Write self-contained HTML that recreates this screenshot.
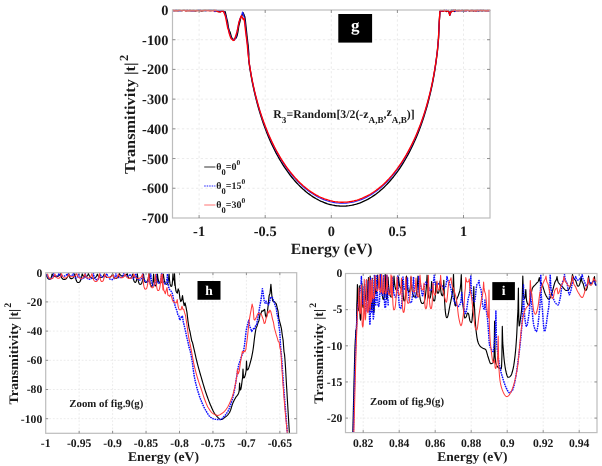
<!DOCTYPE html>
<html><head><meta charset="utf-8"><style>
html,body{margin:0;padding:0;background:#fff;width:602px;height:466px;overflow:hidden}
svg{display:block;filter:blur(0.3px)}
text{text-rendering:geometricPrecision;filter:grayscale(1)}
text{font-family:"Liberation Serif",serif}
.b{font-weight:bold;fill:#1a1a1a}
.grid{stroke:#e6e6e6;stroke-width:0.8;stroke-dasharray:2.3 2.4}
.grid2{stroke:#e6e6e6;stroke-width:0.8;stroke-dasharray:1.8 1.8}
.ax{fill:none;stroke:#bdbdbd;stroke-width:1.2}
.tk{stroke:#858585;stroke-width:0.9}
</style></head><body>
<svg width="602" height="466" viewBox="0 0 602 466">
<defs>
<clipPath id="ch"><rect x="45.7" y="271.7" width="251" height="161.6"/></clipPath>
<clipPath id="ci"><rect x="345.5" y="272.5" width="251.5" height="160.1"/></clipPath>
</defs>
<rect width="602" height="466" fill="#fff"/>
<g>
<line x1="199.1" y1="10" x2="199.1" y2="218" class="grid"/>
<line x1="265.2" y1="10" x2="265.2" y2="218" class="grid"/>
<line x1="331.3" y1="10" x2="331.3" y2="218" class="grid"/>
<line x1="397.4" y1="10" x2="397.4" y2="218" class="grid"/>
<line x1="463.5" y1="10" x2="463.5" y2="218" class="grid"/>
<line x1="172.5" y1="39.71" x2="490" y2="39.71" class="grid"/>
<line x1="172.5" y1="69.42" x2="490" y2="69.42" class="grid"/>
<line x1="172.5" y1="99.13" x2="490" y2="99.13" class="grid"/>
<line x1="172.5" y1="128.84" x2="490" y2="128.84" class="grid"/>
<line x1="172.5" y1="158.55" x2="490" y2="158.55" class="grid"/>
<line x1="172.5" y1="188.26" x2="490" y2="188.26" class="grid"/>
<path d="M172.66 10.36 L173.98 10.67 L175.3 10.64 L176.63 10.41 L177.95 10.52 L179.27 10.5 L180.59 10.59 L181.91 10.65 L183.24 10.34 L184.56 10.31 L185.88 10.67 L187.2 10.49 L188.52 10.64 L189.85 10.3 L191.17 10.5 L192.49 10.62 L193.81 10.4 L195.13 10.72 L196.46 10.7 L197.78 10.31 L199.1 10.31 L200.42 10.54 L201.74 10.72 L203.07 10.47 L204.39 10.39 L205.71 10.49 L207.03 10.31 L208.35 10.4 L209.68 10.49 L211 10.52 L212.32 10.4 L213.64 10.4 L214.96 10.72 L216.29 10.67 L217.61 11.47 L218.93 11.29 L220.25 11.65 L221.57 10.64 L224.13 11.93 L225.13 11.64 L226.03 15.47 L226.73 18.6 L227.53 21.64 L228.43 27.81 L229.33 30.92 L230.13 32.39 L231.53 37.49 L232.73 39.22 L234.03 39.69 L235.13 38.16 L236.13 38.08 L237.03 35.86 L237.83 32.04 L238.73 26.08 L239.53 23.1 L240.83 17.48 L242.13 15.18 L243.03 12.74 L244.03 14.88 L244.83 17.09 L245.53 22.46 L246.43 30.89 L247.33 39.3 L248.13 45.5 L248.83 54 L248.68 59.74 L249.2 63.65 L249.73 67.28 L250.26 70.67 L250.79 73.86 L251.32 76.88 L251.85 79.76 L252.38 82.51 L252.91 85.14 L253.43 87.66 L253.96 90.1 L254.49 92.44 L255.02 94.71 L255.55 96.91 L257.14 103.11 L258.72 108.83 L260.31 114.13 L261.9 119.08 L263.48 123.72 L265.07 128.1 L266.65 132.23 L268.24 136.15 L269.83 139.87 L271.41 143.41 L273 146.79 L274.59 150 L276.17 153.08 L277.76 156.02 L279.35 158.83 L280.93 161.52 L282.52 164.1 L284.1 166.57 L285.69 168.94 L287.28 171.21 L288.86 173.38 L290.45 175.47 L292.04 177.46 L293.62 179.37 L295.21 181.2 L296.8 182.96 L298.38 184.63 L299.97 186.23 L301.56 187.76 L303.14 189.22 L304.73 190.61 L306.31 191.93 L307.9 193.19 L309.49 194.38 L311.07 195.51 L312.66 196.58 L314.25 197.58 L315.83 198.53 L317.42 199.42 L319.01 200.25 L320.59 201.02 L322.18 201.74 L323.76 202.39 L325.35 203 L326.94 203.55 L328.52 204.04 L330.11 204.48 L331.7 204.87 L333.28 205.2 L334.87 205.48 L336.46 205.71 L338.04 205.88 L339.63 206 L341.22 206.07 L342.8 206.09 L344.39 206.05 L345.97 205.96 L347.56 205.82 L349.15 205.62 L350.73 205.38 L352.32 205.08 L353.91 204.72 L355.49 204.32 L357.08 203.86 L358.67 203.34 L360.25 202.77 L361.84 202.15 L363.42 201.47 L365.01 200.73 L366.6 199.94 L368.18 199.09 L369.77 198.18 L371.36 197.21 L372.94 196.18 L374.53 195.08 L376.12 193.93 L377.7 192.71 L379.29 191.43 L380.88 190.08 L382.46 188.67 L384.05 187.18 L385.63 185.63 L387.22 184 L388.81 182.29 L390.39 180.51 L391.98 178.65 L393.57 176.71 L395.15 174.68 L396.74 172.56 L398.33 170.35 L399.91 168.04 L401.5 165.64 L403.08 163.13 L404.67 160.5 L406.26 157.77 L407.84 154.91 L409.43 151.92 L411.02 148.79 L412.6 145.51 L414.19 142.08 L415.78 138.47 L417.36 134.67 L418.95 130.68 L420.54 126.45 L422.12 121.98 L423.71 117.22 L425.29 112.14 L426.88 106.69 L428.47 100.8 L430.05 94.38 L430.58 92.1 L431.11 89.74 L431.64 87.29 L432.17 84.75 L432.7 82.1 L433.23 79.34 L433.76 76.44 L434.28 73.39 L434.81 70.17 L435.34 66.75 L435.87 63.09 L436.4 59 L437.46 50.75 L438.51 38.65 L439.24 22.25 L439.97 11.55 L441.03 10.99 L441.82 10.99 L442.61 10.59 L443.41 10.56 L444.2 10.29 L444.99 10.68 L445.79 10.87 L446.58 11.46 L447.37 11.4 L448.16 10.46 L448.96 11.77 L449.75 15.17 L450.54 13.09 L451.34 10.11 L452.13 10.8 L452.92 10.16 L453.72 11.04 L454.51 11.5 L455.3 10.06 L456.1 10.41 L456.89 10.65 L457.68 10.48 L458.48 10.37 L459.27 10.54 L460.06 10.61 L460.86 10.6 L461.65 10.46 L462.44 10.49 L463.24 10.52 L464.03 10.64 L464.82 10.53 L465.62 10.47 L466.41 10.52 L467.2 10.31 L467.99 10.32 L468.79 10.61 L469.58 10.74 L470.37 10.56 L471.17 10.47 L471.96 10.37 L472.75 10.52 L473.55 10.73 L474.34 10.64 L475.13 10.54 L475.93 10.68 L476.72 10.4 L477.51 10.53 L478.31 10.72 L479.1 10.55 L479.89 10.5 L480.69 10.42 L481.48 10.54 L482.27 10.72 L483.07 10.3 L483.86 10.65 L484.65 10.66 L485.45 10.69 L486.24 10.63 L487.03 10.66 L487.82 10.53 L488.62 10.55 L489.41 10.49 L489.94 10.89" fill="none" stroke="#000" stroke-width="1.35" stroke-linejoin="round" />
<path d="M172.66 10.72 L173.98 10.72 L175.3 10.32 L176.63 10.33 L177.95 10.67 L179.27 10.63 L180.59 10.6 L181.91 10.43 L183.24 10.57 L184.56 10.57 L185.88 10.56 L187.2 10.37 L188.52 10.49 L189.85 10.47 L191.17 10.62 L192.49 10.74 L193.81 10.72 L195.13 10.54 L196.46 10.5 L197.78 10.42 L199.1 10.31 L200.42 10.31 L201.74 10.5 L203.07 10.44 L204.39 10.47 L205.71 10.69 L207.03 10.53 L208.35 10.55 L209.68 10.4 L211 10.31 L212.32 10.44 L213.64 10.36 L214.96 11.56 L216.29 10.19 L217.61 11.24 L218.93 10.5 L220.25 11.13 L221.57 10.78 L223.6 10.72 L224.6 12.73 L225.5 15.58 L226.2 17.51 L227 22.92 L227.9 27.1 L228.8 30.48 L229.6 33.75 L231 37.5 L232.2 39.25 L233.5 39.6 L234.6 39.94 L235.6 38.33 L236.5 34.78 L237.3 30.36 L238.2 26.07 L239 22.21 L240.3 17.95 L241.6 16.05 L242.5 11.99 L243.5 14.88 L244.3 17.97 L245 22.05 L245.9 31.54 L246.8 39.34 L247.6 45.5 L248.3 54 L248.68 59.03 L249.2 62.88 L249.73 66.45 L250.26 69.79 L250.79 72.94 L251.32 75.92 L251.85 78.76 L252.38 81.46 L252.91 84.05 L253.43 86.54 L253.96 88.94 L254.49 91.26 L255.02 93.49 L255.55 95.66 L257.14 101.77 L258.72 107.4 L260.31 112.63 L261.9 117.51 L263.48 122.09 L265.07 126.4 L266.65 130.47 L268.24 134.34 L269.83 138 L271.41 141.49 L273 144.82 L274.59 147.99 L276.17 151.02 L277.76 153.92 L279.35 156.69 L280.93 159.34 L282.52 161.88 L284.1 164.32 L285.69 166.65 L287.28 168.89 L288.86 171.03 L290.45 173.08 L292.04 175.05 L293.62 176.94 L295.21 178.74 L296.8 180.47 L298.38 182.12 L299.97 183.7 L301.56 185.2 L303.14 186.64 L304.73 188.01 L306.31 189.31 L307.9 190.55 L309.49 191.73 L311.07 192.84 L312.66 193.89 L314.25 194.88 L315.83 195.82 L317.42 196.69 L319.01 197.51 L320.59 198.27 L322.18 198.98 L323.76 199.62 L325.35 200.22 L326.94 200.76 L328.52 201.25 L330.11 201.68 L331.7 202.06 L333.28 202.39 L334.87 202.66 L336.46 202.89 L338.04 203.06 L339.63 203.18 L341.22 203.25 L342.8 203.26 L344.39 203.23 L345.97 203.14 L347.56 203 L349.15 202.81 L350.73 202.57 L352.32 202.27 L353.91 201.92 L355.49 201.52 L357.08 201.07 L358.67 200.56 L360.25 200 L361.84 199.38 L363.42 198.71 L365.01 197.99 L366.6 197.2 L368.18 196.36 L369.77 195.47 L371.36 194.51 L372.94 193.5 L374.53 192.42 L376.12 191.28 L377.7 190.08 L379.29 188.82 L380.88 187.49 L382.46 186.1 L384.05 184.63 L385.63 183.1 L387.22 181.49 L388.81 179.81 L390.39 178.06 L391.98 176.22 L393.57 174.31 L395.15 172.31 L396.74 170.22 L398.33 168.04 L399.91 165.77 L401.5 163.4 L403.08 160.92 L404.67 158.34 L406.26 155.64 L407.84 152.82 L409.43 149.87 L411.02 146.79 L412.6 143.56 L414.19 140.18 L415.78 136.62 L417.36 132.88 L418.95 128.94 L420.54 124.78 L422.12 120.37 L423.71 115.68 L425.29 110.67 L426.88 105.3 L428.47 99.49 L430.05 93.16 L430.58 90.91 L431.11 88.59 L431.64 86.18 L432.17 83.67 L432.7 81.06 L433.23 78.34 L433.76 75.48 L434.28 72.48 L434.81 69.31 L435.34 65.93 L435.87 62.32 L436.4 58.23 L437.46 49.84 L438.51 37.85 L439.24 22.53 L439.97 11 L441.03 10.95 L441.82 11.4 L442.61 11.34 L443.41 10.47 L444.2 10.61 L444.99 10.51 L445.79 10.28 L446.58 10.04 L447.37 11.21 L448.16 10.67 L448.96 11.53 L449.75 15.31 L450.54 13.33 L451.34 11.6 L452.13 10.28 L452.92 10.29 L453.72 10.05 L454.51 10.77 L455.3 11.36 L456.1 10.5 L456.89 10.55 L457.68 10.71 L458.48 10.62 L459.27 10.51 L460.06 10.4 L460.86 10.44 L461.65 10.61 L462.44 10.37 L463.24 10.7 L464.03 10.42 L464.82 10.7 L465.62 10.44 L466.41 10.72 L467.2 10.61 L467.99 10.52 L468.79 10.53 L469.58 10.59 L470.37 10.56 L471.17 10.44 L471.96 10.39 L472.75 10.53 L473.55 10.71 L474.34 10.57 L475.13 10.33 L475.93 10.66 L476.72 10.62 L477.51 10.7 L478.31 10.38 L479.1 10.63 L479.89 10.32 L480.69 10.59 L481.48 10.42 L482.27 10.4 L483.07 10.69 L483.86 10.34 L484.65 10.53 L485.45 10.68 L486.24 10.41 L487.03 10.39 L487.82 10.69 L488.62 10.49 L489.41 10.62 L489.94 10.89" fill="none" stroke="#2020ff" stroke-width="1.1" stroke-linejoin="round" />
<path d="M172.66 10.4 L173.98 10.54 L175.3 10.46 L176.63 10.57 L177.95 10.58 L179.27 10.33 L180.59 10.3 L181.91 10.67 L183.24 10.41 L184.56 10.4 L185.88 10.74 L187.2 10.51 L188.52 10.67 L189.85 10.51 L191.17 10.58 L192.49 10.36 L193.81 10.58 L195.13 10.68 L196.46 10.53 L197.78 10.63 L199.1 10.6 L200.42 10.33 L201.74 10.64 L203.07 10.56 L204.39 10.43 L205.71 10.31 L207.03 10.68 L208.35 10.51 L209.68 10.62 L211 10.69 L212.32 10.62 L213.64 10.71 L214.96 10.25 L216.29 10.64 L217.61 11.45 L218.93 11.92 L220.25 12.1 L221.57 11.18 L223.34 10.88 L224.34 13.4 L225.24 15.66 L225.94 18.98 L226.74 22.87 L227.64 27.7 L228.54 30.31 L229.34 33.76 L230.74 37.95 L231.94 39.17 L233.24 40.47 L234.34 40.14 L235.34 36.96 L236.24 34.08 L237.04 31.69 L237.94 27.56 L238.74 22.91 L240.04 18.88 L241.34 15.65 L242.24 17.25 L243.24 19.52 L244.04 18.4 L244.74 23.56 L245.64 31.67 L246.54 38.54 L247.34 45.5 L248.04 54 L248.68 58.76 L249.2 62.6 L249.73 66.15 L250.26 69.47 L250.79 72.6 L251.32 75.57 L251.85 78.39 L252.38 81.08 L252.91 83.66 L253.43 86.13 L253.96 88.52 L254.49 90.82 L255.02 93.04 L255.55 95.2 L257.14 101.28 L258.72 106.88 L260.31 112.08 L261.9 116.93 L263.48 121.48 L265.07 125.77 L266.65 129.83 L268.24 133.67 L269.83 137.31 L271.41 140.78 L273 144.09 L274.59 147.25 L276.17 150.26 L277.76 153.14 L279.35 155.9 L280.93 158.54 L282.52 161.07 L284.1 163.49 L285.69 165.81 L287.28 168.03 L288.86 170.16 L290.45 172.21 L292.04 174.16 L293.62 176.04 L295.21 177.83 L296.8 179.55 L298.38 181.19 L299.97 182.76 L301.56 184.26 L303.14 185.69 L304.73 187.05 L306.31 188.35 L307.9 189.58 L309.49 190.75 L311.07 191.86 L312.66 192.9 L314.25 193.89 L315.83 194.82 L317.42 195.69 L319.01 196.5 L320.59 197.26 L322.18 197.96 L323.76 198.6 L325.35 199.2 L326.94 199.73 L328.52 200.22 L330.11 200.65 L331.7 201.03 L333.28 201.35 L334.87 201.63 L336.46 201.85 L338.04 202.02 L339.63 202.14 L341.22 202.21 L342.8 202.22 L344.39 202.19 L345.97 202.1 L347.56 201.96 L349.15 201.77 L350.73 201.53 L352.32 201.24 L353.91 200.89 L355.49 200.49 L357.08 200.04 L358.67 199.53 L360.25 198.98 L361.84 198.36 L363.42 197.7 L365.01 196.97 L366.6 196.2 L368.18 195.36 L369.77 194.47 L371.36 193.52 L372.94 192.51 L374.53 191.44 L376.12 190.31 L377.7 189.12 L379.29 187.86 L380.88 186.54 L382.46 185.15 L384.05 183.69 L385.63 182.17 L387.22 180.57 L388.81 178.9 L390.39 177.15 L391.98 175.33 L393.57 173.42 L395.15 171.43 L396.74 169.36 L398.33 167.19 L399.91 164.93 L401.5 162.57 L403.08 160.11 L404.67 157.54 L406.26 154.86 L407.84 152.05 L409.43 149.12 L411.02 146.05 L412.6 142.84 L414.19 139.47 L415.78 135.94 L417.36 132.22 L418.95 128.3 L420.54 124.16 L422.12 119.77 L423.71 115.11 L425.29 110.13 L426.88 104.79 L428.47 99.01 L430.05 92.71 L430.58 90.48 L431.11 88.17 L431.64 85.77 L432.17 83.28 L432.7 80.68 L433.23 77.97 L433.76 75.13 L434.28 72.14 L434.81 68.99 L435.34 65.63 L435.87 62.04 L436.4 58.65 L437.46 49.84 L438.51 37.8 L439.24 21.8 L439.97 10.89 L441.03 10.38 L441.82 11.18 L442.61 11.19 L443.41 11.42 L444.2 10.23 L444.99 10.67 L445.79 11.28 L446.58 10.57 L447.37 11.35 L448.16 10.87 L448.96 11.91 L449.75 15.26 L450.54 12.88 L451.34 11.33 L452.13 11 L452.92 11.33 L453.72 10.23 L454.51 10.1 L455.3 10.27 L456.1 10.73 L456.89 10.7 L457.68 10.55 L458.48 10.62 L459.27 10.39 L460.06 10.67 L460.86 10.55 L461.65 10.42 L462.44 10.33 L463.24 10.68 L464.03 10.74 L464.82 10.34 L465.62 10.65 L466.41 10.48 L467.2 10.36 L467.99 10.43 L468.79 10.64 L469.58 10.69 L470.37 10.32 L471.17 10.57 L471.96 10.32 L472.75 10.62 L473.55 10.44 L474.34 10.69 L475.13 10.73 L475.93 10.52 L476.72 10.74 L477.51 10.44 L478.31 10.33 L479.1 10.56 L479.89 10.31 L480.69 10.39 L481.48 10.48 L482.27 10.57 L483.07 10.37 L483.86 10.32 L484.65 10.68 L485.45 10.44 L486.24 10.72 L487.03 10.7 L487.82 10.47 L488.62 10.5 L489.41 10.53 L489.94 10.89" fill="none" stroke="#ff0000" stroke-width="1.35" stroke-linejoin="round" />
<rect x="172.5" y="10" width="317.5" height="208" class="ax"/>
<line x1="199.1" y1="218" x2="199.1" y2="215" class="tk"/>
<line x1="199.1" y1="10" x2="199.1" y2="13" class="tk"/>
<line x1="265.2" y1="218" x2="265.2" y2="215" class="tk"/>
<line x1="265.2" y1="10" x2="265.2" y2="13" class="tk"/>
<line x1="331.3" y1="218" x2="331.3" y2="215" class="tk"/>
<line x1="331.3" y1="10" x2="331.3" y2="13" class="tk"/>
<line x1="397.4" y1="218" x2="397.4" y2="215" class="tk"/>
<line x1="397.4" y1="10" x2="397.4" y2="13" class="tk"/>
<line x1="463.5" y1="218" x2="463.5" y2="215" class="tk"/>
<line x1="463.5" y1="10" x2="463.5" y2="13" class="tk"/>
<line x1="172.5" y1="39.71" x2="175.5" y2="39.71" class="tk"/>
<line x1="490" y1="39.71" x2="487" y2="39.71" class="tk"/>
<line x1="172.5" y1="69.42" x2="175.5" y2="69.42" class="tk"/>
<line x1="490" y1="69.42" x2="487" y2="69.42" class="tk"/>
<line x1="172.5" y1="99.13" x2="175.5" y2="99.13" class="tk"/>
<line x1="490" y1="99.13" x2="487" y2="99.13" class="tk"/>
<line x1="172.5" y1="128.84" x2="175.5" y2="128.84" class="tk"/>
<line x1="490" y1="128.84" x2="487" y2="128.84" class="tk"/>
<line x1="172.5" y1="158.55" x2="175.5" y2="158.55" class="tk"/>
<line x1="490" y1="158.55" x2="487" y2="158.55" class="tk"/>
<line x1="172.5" y1="188.26" x2="175.5" y2="188.26" class="tk"/>
<line x1="490" y1="188.26" x2="487" y2="188.26" class="tk"/>
<text x="168.5" y="15" font-size="14.4" text-anchor="end" class="b">0</text>
<text x="168.5" y="44.71" font-size="14.4" text-anchor="end" class="b">-100</text>
<text x="168.5" y="74.42" font-size="14.4" text-anchor="end" class="b">-200</text>
<text x="168.5" y="104.13" font-size="14.4" text-anchor="end" class="b">-300</text>
<text x="168.5" y="133.84" font-size="14.4" text-anchor="end" class="b">-400</text>
<text x="168.5" y="163.55" font-size="14.4" text-anchor="end" class="b">-500</text>
<text x="168.5" y="193.26" font-size="14.4" text-anchor="end" class="b">-600</text>
<text x="168.5" y="222.97" font-size="14.4" text-anchor="end" class="b">-700</text>
<text x="199.1" y="236.2" font-size="14.4" text-anchor="middle" class="b">-1</text>
<text x="265.2" y="236.2" font-size="14.4" text-anchor="middle" class="b">-0.5</text>
<text x="331.3" y="236.2" font-size="14.4" text-anchor="middle" class="b">0</text>
<text x="397.4" y="236.2" font-size="14.4" text-anchor="middle" class="b">0.5</text>
<text x="463.5" y="236.2" font-size="14.4" text-anchor="middle" class="b">1</text>
<text x="290.74" y="254.4" font-size="15.6" text-anchor="start" textLength="81.9" lengthAdjust="spacingAndGlyphs" class="b" >Energy (eV)</text>
<text transform="translate(135.3,173.94) rotate(-90)" font-size="15.2" class="b" textLength="111.5" lengthAdjust="spacingAndGlyphs">Transmitivity |t|</text><text transform="translate(127.9,61.1) rotate(-90)" font-size="12.4" class="b">2</text>
<line x1="204.2" y1="167" x2="215.4" y2="167" stroke="#444" stroke-width="1.1" />
<text x="216.3" y="170" font-size="10" class="b">&#952;<tspan font-size="8.5" dy="4.6">0</tspan><tspan dy="-4.6">=0</tspan><tspan font-size="7.5" dy="-5.2">0</tspan></text>
<line x1="204.2" y1="186" x2="215.4" y2="186" stroke="#2020ff" stroke-width="1.1" stroke-dasharray="1.5 1"/>
<text x="216.3" y="189" font-size="10" class="b">&#952;<tspan font-size="8.5" dy="4.6">0</tspan><tspan dy="-4.6">=15</tspan><tspan font-size="7.5" dy="-5.2">0</tspan></text>
<line x1="204.2" y1="205" x2="215.4" y2="205" stroke="#ff8080" stroke-width="1.1" />
<text x="216.3" y="208" font-size="10" class="b">&#952;<tspan font-size="8.5" dy="4.6">0</tspan><tspan dy="-4.6">=30</tspan><tspan font-size="7.5" dy="-5.2">0</tspan></text>
<rect x="338.3" y="14" width="33.8" height="28.6" fill="#000"/>
<text x="355.3" y="30.5" font-size="17" text-anchor="middle" class="b" style="fill:#fff">g</text>
<text x="273.3" y="117.9" font-size="11.8" class="b">R<tspan font-size="9.2" dy="5.3">3</tspan><tspan dy="-5.3">=Random[3/2(-z</tspan><tspan font-size="9.2" dy="5.3">A,B</tspan><tspan dy="-5.3">,</tspan><tspan dy="-2">z</tspan><tspan font-size="9.2" dy="7.3">A,B</tspan><tspan dy="-5.3">)]</tspan></text>
<line x1="79.15" y1="272.7" x2="79.15" y2="433.3" class="grid2"/>
<line x1="112.6" y1="272.7" x2="112.6" y2="433.3" class="grid2"/>
<line x1="146.05" y1="272.7" x2="146.05" y2="433.3" class="grid2"/>
<line x1="179.5" y1="272.7" x2="179.5" y2="433.3" class="grid2"/>
<line x1="212.95" y1="272.7" x2="212.95" y2="433.3" class="grid2"/>
<line x1="246.4" y1="272.7" x2="246.4" y2="433.3" class="grid2"/>
<line x1="279.85" y1="272.7" x2="279.85" y2="433.3" class="grid2"/>
<line x1="45.7" y1="301.9" x2="296.7" y2="301.9" class="grid2"/>
<line x1="45.7" y1="331.1" x2="296.7" y2="331.1" class="grid2"/>
<line x1="45.7" y1="360.3" x2="296.7" y2="360.3" class="grid2"/>
<line x1="45.7" y1="389.5" x2="296.7" y2="389.5" class="grid2"/>
<line x1="45.7" y1="418.7" x2="296.7" y2="418.7" class="grid2"/>
<g clip-path="url(#ch)" class="cv">
<path d="M46 273.86 L46.45 275.53 L46.91 276.81 L47.36 277.75 L47.82 278.42 L48.27 278.84 L48.72 279.08 L49.18 279.19 L49.63 279.22 L50.13 279.14 L50.63 278.77 L51.13 277.89 L51.63 276.29 L52.13 273.77 L52.58 274.66 L53.04 275.34 L53.49 275.84 L53.95 276.19 L54.41 276.42 L54.86 276.55 L55.32 276.61 L55.77 276.62 L56.23 276.61 L56.69 276.58 L57.15 276.5 L57.61 276.37 L58.07 276.17 L58.53 275.89 L58.99 275.51 L59.44 275.01 L59.9 274.39 L60.36 273.63 L60.82 275.42 L61.29 276.8 L61.75 277.82 L62.21 278.53 L62.68 278.99 L63.14 279.25 L63.6 279.37 L64.06 279.39 L64.53 279.38 L65 279.31 L65.46 279.16 L65.93 278.9 L66.4 278.5 L66.86 277.94 L67.33 277.18 L67.8 276.2 L68.26 274.97 L68.73 273.46 L69.15 275.52 L69.58 276.96 L70.01 277.87 L70.43 278.38 L70.86 278.6 L71.28 278.65 L71.73 278.63 L72.18 278.52 L72.62 278.3 L73.07 277.91 L73.51 277.29 L73.96 276.42 L74.4 275.23 L74.85 273.69 L75.34 276.77 L75.83 279.03 L76.32 280.61 L76.81 281.62 L77.3 282.19 L77.79 282.44 L78.28 282.5 L78.77 282.46 L79.26 282.28 L79.76 281.88 L80.25 281.18 L80.74 280.1 L81.23 278.55 L81.73 276.45 L82.22 273.72 L82.65 274.84 L83.08 275.67 L83.51 276.24 L83.94 276.61 L84.37 276.81 L84.8 276.91 L85.23 276.93 L85.68 276.9 L86.14 276.81 L86.59 276.58 L87.04 276.19 L87.5 275.57 L87.95 274.69 L88.41 273.49 L88.89 274.7 L89.37 275.69 L89.85 276.48 L90.33 277.09 L90.81 277.54 L91.29 277.86 L91.77 278.07 L92.25 278.19 L92.73 278.25 L93.21 278.26 L93.67 278.24 L94.13 278.18 L94.59 278.04 L95.05 277.8 L95.52 277.43 L95.98 276.91 L96.44 276.19 L96.9 275.27 L97.36 274.11 L97.84 275.24 L98.32 276.08 L98.8 276.67 L99.27 277.04 L99.75 277.25 L100.23 277.34 L100.71 277.36 L101.17 277.35 L101.63 277.27 L102.09 277.11 L102.55 276.82 L103.01 276.37 L103.47 275.73 L103.93 274.86 L104.39 273.72 L104.86 275.05 L105.34 276.02 L105.81 276.7 L106.28 277.14 L106.76 277.38 L107.23 277.49 L107.7 277.52 L108.2 277.51 L108.69 277.46 L109.19 277.37 L109.68 277.21 L110.18 276.96 L110.67 276.61 L111.17 276.14 L111.66 275.53 L112.15 274.77 L112.65 273.83 L113.11 275.65 L113.57 276.91 L114.02 277.72 L114.48 278.17 L114.94 278.36 L115.4 278.41 L115.85 278.39 L116.3 278.31 L116.75 278.15 L117.2 277.86 L117.65 277.41 L118.1 276.78 L118.55 275.92 L119 274.81 L119.45 273.41 L119.93 274.29 L120.41 274.94 L120.89 275.39 L121.37 275.68 L121.85 275.84 L122.33 275.91 L122.81 275.93 L123.3 275.92 L123.79 275.88 L124.29 275.8 L124.78 275.67 L125.27 275.45 L125.77 275.15 L126.26 274.74 L126.75 274.21 L127.24 273.54 L127.72 275.76 L128.2 277.16 L128.67 277.94 L129.15 278.27 L129.63 278.33 L130.08 278.31 L130.53 278.18 L130.98 277.9 L131.43 277.4 L131.89 276.62 L132.34 275.5 L132.79 273.98 L133.28 277.86 L133.76 280.32 L134.25 281.68 L134.74 282.25 L135.22 282.38 L135.65 282.25 L136.09 281.66 L136.52 280.28 L136.95 277.76 L137.38 273.8 L137.85 278 L138.32 280.91 L138.79 282.77 L139.27 283.8 L139.74 284.25 L140.21 284.35 L140.68 284.28 L141.15 283.99 L141.62 283.31 L142.09 282.12 L142.56 280.26 L143.03 277.58 L143.51 273.95 L143.95 277.87 L144.4 280.35 L144.84 281.72 L145.29 282.3 L145.73 282.42 L146.21 282.36 L146.68 282.11 L147.16 281.52 L147.63 280.49 L148.11 278.88 L148.58 276.57 L149.06 273.43 L149.5 278.58 L149.95 282.16 L150.39 284.44 L150.84 285.71 L151.28 286.26 L151.73 286.38 L152.2 286.07 L152.66 284.53 L153.13 280.84 L153.59 274.07 L154.01 279.53 L154.43 282.98 L154.85 284.89 L155.26 285.7 L155.68 285.87 L156.12 285.58 L156.56 284.1 L157.01 280.55 L157.45 274.05 L157.87 277.57 L158.29 280.01 L158.71 281.57 L159.13 282.44 L159.55 282.81 L159.97 282.89 L160.45 282.84 L160.93 282.58 L161.41 282.01 L161.89 280.99 L162.37 279.41 L162.85 277.13 L163.33 274.03 L163.8 277.6 L164.27 280.22 L164.74 282.04 L165.22 283.22 L165.69 283.88 L166.16 284.17 L166.63 284.23 L167.11 284.09 L167.6 283.39 L168.08 281.75 L168.56 278.79 L169.04 274.11 L169.5 279.8 L169.97 283.41 L170.43 285.4 L170.89 286.25 L171.36 286.42 L171.76 286.1 L172.16 284.51 L172.56 280.68 L172.96 273.67 L173.43 278.74 L173.9 279.93 L174.37 280.93 L174.85 285.45 L174.5 273.5 L174.98 282.19 L175.46 287.7 L175.94 290.74 L176.42 292.15 L177.32 293.22 L178.18 288.92 L179.03 291 L179.9 298.08 L180.77 301.54 L181.63 300.3 L182.5 295.55 L183.34 301.51 L184.18 305.68 L185.05 302.87 L186 307.12 L187 312.51 L188 321.32 L189 327.84 L190 331.8 L191 337.21 L191.88 341.47 L192.32 341.95 L192.76 343.7 L193.2 345.5 L193.67 347.53 L194.15 349.62 L194.62 351.74 L195.1 353.87 L195.57 355.98 L196.05 358.06 L196.53 360.07 L197 362 L197.47 363.82 L197.93 365.59 L198.4 367.33 L198.87 369.03 L199.33 370.7 L199.8 372.34 L200.27 373.97 L200.73 375.59 L201.2 377.2 L201.68 378.86 L202.16 380.51 L202.64 382.16 L203.12 383.79 L203.6 385.41 L204.08 387 L204.56 388.56 L205.04 390.08 L205.52 391.56 L206 393 L206.47 394.37 L206.94 395.73 L207.41 397.06 L207.88 398.37 L208.35 399.65 L208.82 400.9 L209.29 402.11 L209.76 403.28 L210.23 404.41 L210.7 405.5 L211.18 406.59 L211.66 407.68 L212.13 408.75 L212.61 409.79 L213.09 410.79 L213.57 411.73 L214.04 412.58 L214.52 413.35 L215 414 L215.48 414.61 L215.97 415.21 L216.45 415.81 L216.94 416.4 L217.42 416.95 L217.91 417.48 L218.39 417.96 L218.88 418.4 L219.36 418.77 L219.85 419.08 L220.33 419.31 L220.82 419.45 L221.3 419.5 L221.76 419.44 L222.23 419.29 L222.69 419.05 L223.15 418.75 L223.61 418.41 L224.07 418.04 L224.54 417.66 L225 417.3 L225.5 416.91 L226 416.51 L226.5 416.07 L227 415.61 L227.5 415.1 L228 414.54 L228.5 413.92 L229 413.25 L229.5 412.5 L229.95 411.64 L230.4 410.52 L230.85 409.22 L231.3 407.8 L231.75 406.35 L232.2 404.93 L232.65 403.62 L233.1 402.5 L233.58 401.46 L234.07 400.49 L234.55 399.57 L235.03 398.69 L235.52 397.84 L236 397 L236.47 396.32 L236.93 395.8 L237.4 395.29 L237.87 394.67 L238.33 393.79 L238.8 392.5 L239.2 390.75 L239.6 383 L240 388.95 L240.4 390 L240.85 389.14 L241.3 386.88 L241.75 383.68 L242.2 380 L242.6 377.51 L243 369 L243.4 376.65 L243.8 378 L244.3 377.64 L244.8 376.58 L245.3 374.86 L245.8 372.5 L246.15 370.31 L246.5 361 L246.9 368.65 L247.3 370 L247.8 369.7 L248.3 368.87 L248.8 367.63 L249.3 366.08 L249.8 364.34 L250.3 362.51 L250.8 360.7 L251.24 359.02 L251.68 357.09 L252.12 354.92 L252.56 352.55 L253 350 L253.42 347.09 L253.84 343.65 L254.26 340.03 L254.68 336.59 L255.1 333.7 L255.57 331.01 L256.05 327.98 L257 326.14 L258 322.85 L259 320.45 L260 314.36 L261 313.36 L261.93 310.75 L262.87 311.23 L263.8 310.07 L264.65 309.34 L265.5 315.57 L266.3 317.46 L267.2 313.5 L268.2 305.15 L269.13 295.62 L270.03 293.18 L270.9 284.36 L271.83 295.29 L272.73 301.05 L273.57 301.19 L274.46 301.64 L275.38 302.85 L276.3 303.78 L277.15 307.57 L278 310.78 L278.8 318.32 L279.65 321.58 L280.55 325.02 L281.43 328.67 L282.3 335.25 L283.1 340.15 L284 351.75 L284.5 354.39 L285 360 L285.5 367.41 L286 376.2 L286.5 385 L287 393.33 L287.5 401.67 L288 410 L288.5 418.33 L289 426.67 L289.5 435" fill="none" stroke="#000" stroke-width="1.15" stroke-linejoin="round" />
<path d="M46.8 274.18 L47.26 275.62 L47.73 276.73 L48.19 277.54 L48.65 278.11 L49.12 278.48 L49.58 278.69 L50.04 278.79 L50.51 278.81 L50.95 278.77 L51.4 278.62 L51.84 278.29 L52.28 277.68 L52.73 276.75 L53.17 275.4 L53.62 273.57 L54.07 274.56 L54.52 275.24 L54.98 275.68 L55.43 275.92 L55.88 276.03 L56.34 276.05 L56.76 276.03 L57.17 275.93 L57.59 275.7 L58.01 275.29 L58.43 274.64 L58.84 273.71 L59.34 274.3 L59.84 274.78 L60.33 275.17 L60.83 275.46 L61.32 275.68 L61.82 275.84 L62.32 275.94 L62.81 276 L63.31 276.03 L63.81 276.03 L64.26 276.02 L64.72 275.97 L65.18 275.85 L65.64 275.65 L66.1 275.33 L66.56 274.88 L67.02 274.26 L67.48 273.47 L67.95 274.22 L68.42 274.77 L68.9 275.15 L69.37 275.4 L69.84 275.54 L70.31 275.6 L70.78 275.61 L71.2 275.59 L71.63 275.51 L72.05 275.31 L72.47 274.95 L72.89 274.39 L73.32 273.58 L73.77 275.56 L74.23 276.81 L74.68 277.5 L75.14 277.79 L75.59 277.86 L76.03 277.83 L76.47 277.7 L76.91 277.43 L77.35 276.93 L77.79 276.16 L78.23 275.05 L78.67 273.55 L79.12 275.17 L79.57 276.41 L80.02 277.33 L80.48 277.97 L80.93 278.39 L81.38 278.62 L81.83 278.73 L82.28 278.75 L82.71 278.72 L83.14 278.58 L83.57 278.25 L84 277.68 L84.43 276.78 L84.86 275.49 L85.29 273.73 L85.75 275.27 L86.22 276.49 L86.69 277.43 L87.16 278.13 L87.63 278.62 L88.1 278.94 L88.57 279.12 L89.04 279.2 L89.51 279.22 L90 279.19 L90.5 279.08 L91 278.83 L91.5 278.38 L91.99 277.68 L92.49 276.69 L92.99 275.35 L93.49 273.6 L93.96 275.75 L94.44 277.33 L94.91 278.44 L95.39 279.14 L95.86 279.54 L96.34 279.72 L96.82 279.76 L97.26 279.72 L97.71 279.55 L98.15 279.17 L98.6 278.5 L99.05 277.45 L99.49 275.94 L99.94 273.89 L100.38 274.9 L100.82 275.64 L101.27 276.15 L101.71 276.48 L102.15 276.67 L102.6 276.75 L103.04 276.77 L103.51 276.75 L103.99 276.69 L104.46 276.54 L104.94 276.29 L105.41 275.89 L105.88 275.33 L106.36 274.57 L106.83 273.57 L107.31 274.96 L107.78 276.12 L108.26 277.06 L108.73 277.82 L109.2 278.4 L109.68 278.83 L110.15 279.14 L110.63 279.34 L111.1 279.46 L111.58 279.51 L112.05 279.53 L112.53 279.5 L113.01 279.38 L113.49 279.12 L113.96 278.67 L114.44 277.97 L114.92 276.96 L115.4 275.6 L115.87 273.82 L116.33 275.02 L116.78 275.94 L117.23 276.62 L117.68 277.09 L118.13 277.4 L118.59 277.57 L119.04 277.65 L119.49 277.67 L119.96 277.65 L120.44 277.59 L120.91 277.45 L121.38 277.21 L121.86 276.84 L122.33 276.31 L122.8 275.6 L123.28 274.68 L123.75 273.52 L124.18 274.37 L124.61 274.99 L125.04 275.43 L125.47 275.71 L125.89 275.86 L126.32 275.93 L126.75 275.95 L127.21 275.94 L127.67 275.9 L128.13 275.82 L128.58 275.68 L129.04 275.45 L129.5 275.13 L129.96 274.7 L130.41 274.14 L130.91 275.93 L131.41 277.18 L131.91 277.97 L132.4 278.41 L132.9 278.61 L133.4 278.65 L133.86 278.57 L134.33 278.22 L134.79 277.38 L135.26 275.87 L135.72 273.47 L136.18 275.28 L136.64 276.72 L137.11 277.83 L137.57 278.65 L138.03 279.23 L138.49 279.61 L138.95 279.82 L139.41 279.92 L139.88 279.94 L140.34 279.88 L140.8 279.63 L141.27 279.03 L141.73 277.96 L142.19 276.28 L142.66 273.85 L143.15 276.15 L143.64 277.97 L144.13 279.37 L144.62 280.41 L145.11 281.14 L145.6 281.62 L146.09 281.89 L146.58 282.01 L147.07 282.04 L147.53 282 L148 281.84 L148.47 281.47 L148.93 280.81 L149.4 279.8 L149.87 278.35 L150.33 276.39 L150.8 273.84 L151.22 278.58 L151.64 281.86 L152.07 283.95 L152.49 285.12 L152.91 285.62 L153.33 285.73 L153.79 285.62 L154.25 285.11 L154.71 283.94 L155.17 281.83 L155.63 278.52 L156.09 273.76 L156.56 278.08 L157.04 280.82 L157.51 282.34 L157.99 282.98 L158.46 283.11 L158.95 283.05 L159.43 282.78 L159.91 282.15 L160.39 281.04 L160.87 279.3 L161.36 276.82 L161.84 273.44 L162.28 277.06 L162.73 279.72 L163.18 281.58 L163.62 282.77 L164.07 283.44 L164.52 283.74 L164.96 283.8 L165.39 283.71 L165.81 283.3 L166.23 282.33 L166.65 280.61 L167.08 277.9 L167.5 274 L168 283.59 L169 288.49 L170 290.33 L171 291.1 L171.97 292.3 L172.9 295.72 L173.83 300.91 L174.8 304.64 L175.8 308.39 L176.8 310.16 L177.8 314.55 L178.8 315.82 L179.8 320.09 L180.73 318.45 L181.57 316.52 L182.43 316.26 L183.3 321.71 L184.17 325.44 L185.05 328.91 L185.95 333.32 L186.8 337.44 L188 342.07 L189 347.28 L190 349.85 L190.5 352.26 L191 354.63 L191.5 357.19 L192 360 L192.44 362.94 L192.88 366.35 L193.32 369.89 L193.76 373.22 L194.2 376 L194.67 378.46 L195.14 380.73 L195.61 382.83 L196.09 384.78 L196.56 386.6 L197.03 388.34 L197.5 390 L197.96 391.57 L198.43 393.06 L198.89 394.49 L199.35 395.86 L199.81 397.17 L200.27 398.42 L200.74 399.63 L201.2 400.8 L201.68 401.97 L202.16 403.11 L202.63 404.22 L203.11 405.29 L203.59 406.33 L204.07 407.32 L204.54 408.26 L205.02 409.16 L205.5 410 L205.97 410.81 L206.45 411.62 L206.92 412.42 L207.39 413.2 L207.86 413.95 L208.34 414.66 L208.81 415.33 L209.28 415.93 L209.75 416.47 L210.23 416.93 L210.7 417.3 L211.18 417.62 L211.66 417.93 L212.13 418.22 L212.61 418.49 L213.09 418.73 L213.57 418.93 L214.04 419.1 L214.52 419.22 L215 419.3 L215.46 419.35 L215.93 419.39 L216.39 419.43 L216.85 419.47 L217.32 419.5 L217.78 419.53 L218.25 419.56 L218.71 419.57 L219.17 419.59 L219.64 419.6 L220.1 419.6 L220.59 419.52 L221.07 419.29 L221.56 418.95 L222.05 418.53 L222.54 418.04 L223.03 417.52 L223.51 417 L224 416.5 L224.46 416.04 L224.91 415.55 L225.37 415.03 L225.83 414.48 L226.29 413.87 L226.74 413.21 L227.2 412.5 L227.67 411.69 L228.14 410.78 L228.61 409.79 L229.08 408.72 L229.55 407.57 L230.02 406.34 L230.49 405.05 L230.96 403.69 L231.43 402.27 L231.9 400.8 L232.33 399.34 L232.77 397.73 L233.2 395.98 L233.63 394.1 L234.07 392.1 L234.5 390 L234.92 387.73 L235.34 385.2 L235.76 382.51 L236.18 379.81 L236.6 377.2 L237.07 374.22 L237.55 371.18 L238.03 368.34 L238.5 366 L238.9 364.47 L239.3 363.15 L239.7 361.94 L240.1 360.7 L240.6 359.1 L241.1 357.53 L241.6 356 L242.02 354.88 L242.44 353.9 L242.86 352.89 L243.28 351.65 L243.7 350 L244.1 348.28 L245 341.08 L246 331.73 L246.95 327 L247.85 323.47 L248.73 320.3 L249.57 325.95 L250.4 327.89 L251.68 331.41 L252.65 330.05 L253.62 328.5 L254.58 329.21 L255.55 325.78 L256.52 325.18 L257.5 319.49 L258.5 314.58 L259.48 307.9 L260.42 302.95 L261.27 298.23 L262.4 288.7 L263.3 293.96 L264.25 300.94 L265.15 303.11 L266.05 301.13 L266.92 303.3 L267.76 303.38 L268.6 304.83 L269.55 302.09 L270.5 297.69 L271.5 297.08 L272.5 297.92 L273.5 300.61 L274.5 303.47 L275.4 306.25 L276.3 308.26 L277.15 315 L278 316.98 L278.93 326.01 L279.8 331.76 L280.6 347.16 L281.4 355.12 L282.23 366.04 L282.65 372.48 L283.07 378.93 L283.5 385 L284 391.54 L284.5 397.76 L285 403.85 L285.5 410 L286 416.25 L286.5 422.5 L287 428.75 L287.5 435" fill="none" stroke="#0a0aff" stroke-width="1.45" stroke-linejoin="round" stroke-dasharray="1.6 0.8"/>
<path d="M47.5 273.52 L47.96 275.36 L48.43 276.72 L48.89 277.66 L49.36 278.27 L49.82 278.61 L50.28 278.76 L50.75 278.79 L51.22 278.78 L51.69 278.7 L52.16 278.54 L52.63 278.25 L53.1 277.82 L53.57 277.19 L54.05 276.35 L54.52 275.26 L54.99 273.89 L55.47 275.39 L55.96 276.49 L56.45 277.26 L56.94 277.75 L57.42 278.03 L57.91 278.15 L58.4 278.18 L58.84 278.15 L59.28 278.01 L59.73 277.71 L60.17 277.16 L60.61 276.31 L61.06 275.09 L61.5 273.43 L61.97 274.85 L62.43 275.94 L62.9 276.74 L63.37 277.3 L63.83 277.66 L64.3 277.87 L64.77 277.96 L65.24 277.98 L65.72 277.96 L66.2 277.85 L66.69 277.6 L67.17 277.15 L67.66 276.46 L68.14 275.46 L68.63 274.1 L69.1 274.93 L69.58 275.56 L70.05 276.03 L70.53 276.36 L71 276.57 L71.48 276.69 L71.95 276.74 L72.43 276.75 L72.89 276.74 L73.36 276.69 L73.82 276.58 L74.29 276.4 L74.75 276.11 L75.22 275.69 L75.68 275.14 L76.15 274.41 L76.62 273.5 L77.11 274.86 L77.61 275.94 L78.1 276.78 L78.6 277.39 L79.1 277.83 L79.59 278.11 L80.09 278.27 L80.59 278.34 L81.08 278.36 L81.56 278.34 L82.04 278.24 L82.52 278.04 L83 277.67 L83.48 277.1 L83.96 276.29 L84.44 275.19 L84.92 273.75 L85.36 275.25 L85.81 276.35 L86.25 277.11 L86.7 277.6 L87.14 277.88 L87.59 278 L88.03 278.03 L88.52 278.01 L89 277.91 L89.49 277.71 L89.98 277.35 L90.46 276.79 L90.95 276 L91.44 274.92 L91.92 273.52 L92.42 276 L92.91 277.91 L93.4 279.32 L93.9 280.3 L94.39 280.94 L94.89 281.3 L95.38 281.46 L95.87 281.5 L96.32 281.46 L96.76 281.3 L97.21 280.94 L97.65 280.31 L98.1 279.34 L98.54 277.94 L98.99 276.05 L99.43 273.6 L99.93 277.25 L100.42 279.57 L100.91 280.84 L101.41 281.39 L101.9 281.5 L102.37 281.43 L102.84 281.1 L103.31 280.35 L103.78 278.99 L104.25 276.87 L104.72 273.81 L105.21 274.95 L105.7 275.82 L106.18 276.47 L106.67 276.92 L107.16 277.22 L107.65 277.38 L108.14 277.46 L108.63 277.47 L109.09 277.46 L109.55 277.41 L110 277.3 L110.46 277.11 L110.92 276.81 L111.38 276.38 L111.84 275.81 L112.3 275.06 L112.76 274.13 L113.25 276.04 L113.75 277.26 L114.24 277.93 L114.74 278.21 L115.23 278.27 L115.68 278.24 L116.13 278.12 L116.57 277.84 L117.02 277.34 L117.47 276.55 L117.91 275.43 L118.36 273.91 L118.85 275.21 L119.34 276.18 L119.83 276.85 L120.32 277.28 L120.81 277.52 L121.31 277.63 L121.8 277.65 L122.27 277.63 L122.73 277.52 L123.2 277.28 L123.67 276.85 L124.14 276.19 L124.61 275.23 L125.08 273.93 L125.57 275.09 L126.05 276.04 L126.54 276.79 L127.03 277.37 L127.52 277.8 L128 278.11 L128.49 278.3 L128.98 278.42 L129.47 278.47 L129.96 278.48 L130.42 278.46 L130.89 278.37 L131.36 278.15 L131.83 277.78 L132.3 277.2 L132.77 276.37 L133.24 275.24 L133.71 273.78 L134.19 275.08 L134.68 276.11 L135.16 276.91 L135.64 277.5 L136.13 277.92 L136.61 278.19 L137.09 278.34 L137.57 278.41 L138.06 278.43 L138.51 278.42 L138.96 278.37 L139.42 278.26 L139.87 278.07 L140.32 277.78 L140.78 277.37 L141.23 276.81 L141.68 276.1 L142.14 275.2 L142.59 274.09 L143.08 280.11 L143.56 284.28 L144.05 286.94 L144.54 288.42 L145.02 289.06 L145.51 289.2 L145.96 289.1 L146.42 288.67 L146.88 287.67 L147.33 285.91 L147.79 283.17 L148.24 279.23 L148.7 273.88 L149.15 278.19 L149.6 281.5 L150.05 283.95 L150.5 285.66 L150.95 286.76 L151.4 287.39 L151.85 287.67 L152.3 287.74 L152.77 287.65 L153.23 287.26 L153.7 286.38 L154.17 284.83 L154.63 282.4 L155.1 278.91 L155.57 274.18 L156.01 280.7 L156.46 285.22 L156.91 288.11 L157.35 289.71 L157.8 290.41 L158.25 290.56 L158.73 290.41 L159.22 289.71 L159.7 288.1 L160.19 285.22 L160.67 280.69 L161.16 274.16 L161.61 281.1 L162.07 282.91 L162.53 284.3 L162.99 290.01 L162.5 274 L162.98 282.46 L163.46 287.82 L163.94 290.78 L164.42 291.24 L165.32 293.76 L166.16 290.37 L167 287.61 L167.88 295.04 L168.76 295.63 L169.65 296.32 L170.55 294.32 L171.5 296.4 L172.5 300.44 L173.5 301.98 L174.5 301.78 L175.5 302.98 L176.35 302.82 L177.2 299.61 L178.12 306.36 L179.04 309.45 L180 309.79 L181 309.83 L182 306.18 L182.87 309.33 L183.73 309.38 L184.6 312.67 L185.55 315.6 L186.5 321.97 L187.4 328.11 L188.3 335 L188.76 337.57 L189.22 339.89 L189.68 342.07 L190.14 344.24 L190.6 346.5 L191.05 348.86 L191.5 351.3 L191.95 353.78 L192.4 356.27 L192.85 358.71 L193.3 361.08 L193.75 363.32 L194.2 365.4 L194.67 367.43 L195.14 369.38 L195.61 371.24 L196.09 373.02 L196.56 374.74 L197.03 376.4 L197.5 378 L197.96 379.51 L198.43 380.94 L198.89 382.32 L199.35 383.66 L199.81 384.98 L200.27 386.3 L200.74 387.63 L201.2 389 L201.67 390.44 L202.14 391.92 L202.61 393.41 L203.09 394.89 L203.56 396.33 L204.03 397.71 L204.5 399 L204.97 400.25 L205.45 401.5 L205.93 402.71 L206.4 403.89 L206.88 405 L207.35 406.03 L207.83 406.97 L208.3 407.8 L208.77 408.55 L209.24 409.27 L209.71 409.96 L210.18 410.62 L210.65 411.24 L211.12 411.81 L211.59 412.33 L212.06 412.78 L212.53 413.18 L213 413.5 L213.47 413.78 L213.94 414.06 L214.41 414.33 L214.88 414.58 L215.35 414.81 L215.82 415 L216.29 415.17 L216.76 415.29 L217.23 415.37 L217.7 415.4 L218.18 415.36 L218.66 415.26 L219.14 415.09 L219.62 414.87 L220.1 414.61 L220.58 414.32 L221.06 414.01 L221.54 413.67 L222.02 413.34 L222.5 413 L222.97 412.65 L223.44 412.26 L223.91 411.83 L224.38 411.36 L224.85 410.85 L225.32 410.3 L225.79 409.72 L226.26 409.11 L226.73 408.47 L227.2 407.8 L227.67 407.06 L228.15 406.24 L228.62 405.33 L229.1 404.36 L229.57 403.33 L230.05 402.26 L230.53 401.14 L231 400 L231.42 398.95 L231.84 397.84 L232.26 396.66 L232.68 395.38 L233.1 394 L233.57 392.26 L234.05 390.33 L234.53 388.23 L235 386 L235.4 384.1 L235.8 382.12 L236.2 379.88 L236.6 377.2 L237 375.23 L237.4 369 L237.85 372.4 L238.3 373.72 L239.3 370.82 L240.3 363.06 L241.1 358.62 L242.35 351.33 L243.23 352.82 L244.1 350.92 L244.97 351.81 L245.82 349.66 L246.66 343.14 L247.5 336.94 L248.4 328.03 L249.3 319.88 L250.25 314.39 L251.2 309.39 L252.13 304.07 L253.1 308.11 L254 319.43 L254.83 320.11 L255.7 318.61 L256.57 316.75 L257.49 314.43 L258.46 313.08 L259.44 313.42 L260.41 314.11 L261.38 314.34 L262.32 316.96 L263.27 319.7 L264.23 323.55 L265.17 322.84 L266.1 318.44 L267.03 316.36 L267.97 311.14 L268.9 312.95 L269.83 310.08 L270.74 311.39 L271.62 314.92 L272.5 319.1 L273.45 322.25 L274.4 328.14 L275.35 331.32 L276.3 334.95 L277.27 337.94 L278.23 341.4 L279.2 342.43 L280 348.33 L280.4 349.11 L280.8 352 L281.2 356.82 L281.6 363.48 L282 370 L282.45 376.49 L282.9 382.89 L283.35 389.09 L283.8 395 L284.23 400.3 L284.65 405.4 L285.07 410.3 L285.5 415 L286 420.23 L286.5 425.21 L287 430.08 L287.5 435" fill="none" stroke="#ff3c3c" stroke-width="1.05" stroke-linejoin="round" />
</g>
<rect x="45.7" y="272.7" width="251" height="160.6" class="ax"/>
<line x1="79.15" y1="433.3" x2="79.15" y2="430.8" class="tk"/>
<line x1="79.15" y1="272.7" x2="79.15" y2="275.2" class="tk"/>
<line x1="112.6" y1="433.3" x2="112.6" y2="430.8" class="tk"/>
<line x1="112.6" y1="272.7" x2="112.6" y2="275.2" class="tk"/>
<line x1="146.05" y1="433.3" x2="146.05" y2="430.8" class="tk"/>
<line x1="146.05" y1="272.7" x2="146.05" y2="275.2" class="tk"/>
<line x1="179.5" y1="433.3" x2="179.5" y2="430.8" class="tk"/>
<line x1="179.5" y1="272.7" x2="179.5" y2="275.2" class="tk"/>
<line x1="212.95" y1="433.3" x2="212.95" y2="430.8" class="tk"/>
<line x1="212.95" y1="272.7" x2="212.95" y2="275.2" class="tk"/>
<line x1="246.4" y1="433.3" x2="246.4" y2="430.8" class="tk"/>
<line x1="246.4" y1="272.7" x2="246.4" y2="275.2" class="tk"/>
<line x1="279.85" y1="433.3" x2="279.85" y2="430.8" class="tk"/>
<line x1="279.85" y1="272.7" x2="279.85" y2="275.2" class="tk"/>
<line x1="45.7" y1="301.9" x2="48.2" y2="301.9" class="tk"/>
<line x1="296.7" y1="301.9" x2="294.2" y2="301.9" class="tk"/>
<line x1="45.7" y1="331.1" x2="48.2" y2="331.1" class="tk"/>
<line x1="296.7" y1="331.1" x2="294.2" y2="331.1" class="tk"/>
<line x1="45.7" y1="360.3" x2="48.2" y2="360.3" class="tk"/>
<line x1="296.7" y1="360.3" x2="294.2" y2="360.3" class="tk"/>
<line x1="45.7" y1="389.5" x2="48.2" y2="389.5" class="tk"/>
<line x1="296.7" y1="389.5" x2="294.2" y2="389.5" class="tk"/>
<line x1="45.7" y1="418.7" x2="48.2" y2="418.7" class="tk"/>
<line x1="296.7" y1="418.7" x2="294.2" y2="418.7" class="tk"/>
<text x="42.3" y="276.5" font-size="11.7" text-anchor="end" class="b">0</text>
<text x="42.3" y="305.7" font-size="11.7" text-anchor="end" class="b">-20</text>
<text x="42.3" y="334.9" font-size="11.7" text-anchor="end" class="b">-40</text>
<text x="42.3" y="364.1" font-size="11.7" text-anchor="end" class="b">-60</text>
<text x="42.3" y="393.3" font-size="11.7" text-anchor="end" class="b">-80</text>
<text x="42.3" y="422.5" font-size="11.7" text-anchor="end" class="b">-100</text>
<text x="45.7" y="447" font-size="11.7" text-anchor="middle" class="b">-1</text>
<text x="79.15" y="447" font-size="11.7" text-anchor="middle" class="b">-0.95</text>
<text x="112.6" y="447" font-size="11.7" text-anchor="middle" class="b">-0.9</text>
<text x="146.05" y="447" font-size="11.7" text-anchor="middle" class="b">-0.85</text>
<text x="179.5" y="447" font-size="11.7" text-anchor="middle" class="b">-0.8</text>
<text x="212.95" y="447" font-size="11.7" text-anchor="middle" class="b">-0.75</text>
<text x="246.4" y="447" font-size="11.7" text-anchor="middle" class="b">-0.7</text>
<text x="279.85" y="447" font-size="11.7" text-anchor="middle" class="b">-0.65</text>
<text x="127.95" y="461.4" font-size="13.2" text-anchor="start" textLength="71.1" lengthAdjust="spacingAndGlyphs" class="b" >Energy (eV)</text>
<text transform="translate(17.6,404.5) rotate(-90)" font-size="13" class="b" textLength="95.7" lengthAdjust="spacingAndGlyphs">Transmitivity |t|</text><text transform="translate(10.7,307.7) rotate(-90)" font-size="10" class="b">2</text>
<text x="69.3" y="406.9" font-size="10.8" text-anchor="start" class="b">Zoom of fig.9(g)</text>
<rect x="197.5" y="281" width="23" height="18.75" fill="#000"/>
<text x="209" y="294.5" font-size="13.5" text-anchor="middle" class="b" style="fill:#fff">h</text>
<line x1="363.2" y1="273.5" x2="363.2" y2="432.6" class="grid2"/>
<line x1="399.2" y1="273.5" x2="399.2" y2="432.6" class="grid2"/>
<line x1="435.2" y1="273.5" x2="435.2" y2="432.6" class="grid2"/>
<line x1="471.2" y1="273.5" x2="471.2" y2="432.6" class="grid2"/>
<line x1="507.2" y1="273.5" x2="507.2" y2="432.6" class="grid2"/>
<line x1="543.2" y1="273.5" x2="543.2" y2="432.6" class="grid2"/>
<line x1="579.2" y1="273.5" x2="579.2" y2="432.6" class="grid2"/>
<line x1="345.5" y1="309.65" x2="597" y2="309.65" class="grid2"/>
<line x1="345.5" y1="345.8" x2="597" y2="345.8" class="grid2"/>
<line x1="345.5" y1="381.95" x2="597" y2="381.95" class="grid2"/>
<line x1="345.5" y1="418.1" x2="597" y2="418.1" class="grid2"/>
<g clip-path="url(#ci)" class="cv">
<path d="M352.8 435 L353.2 417.3 L353.6 400 L353.95 385.85 L354.3 372 L354.55 361.38 L354.8 352 L355.05 345.49 L355.3 340 L355.55 337.14 L355.8 330 L356.05 335.1 L356.3 336 L356.55 323.28 L356.8 305 L357.1 298.59 L357.4 284.5 L357.79 306.73 L358.17 310.66 L358.56 309.37 L358.95 302.55 L359.33 285.77 L359.74 308.89 L360.15 318.3 L360.57 320.07 L360.99 318.15 L361.41 308.01 L361.83 283.06 L362.31 299.73 L362.79 306.51 L363.27 307.79 L363.71 306.56 L364.15 300.07 L364.59 284.1 L364.96 294.78 L365.32 299.13 L365.69 299.95 L366.04 298.92 L366.4 293.5 L366.76 280.17 L367.15 297.46 L367.55 300.51 L368.01 297.07 L368.48 277.6 L368.95 305.4 L369.42 310.31 L369.8 305.19 L370.18 276.18 L370.67 304.76 L371.15 309.8 L371.6 308.18 L372.05 299.58 L372.5 278.44 L372.92 301.68 L373.33 311.13 L373.75 312.91 L374.09 310.96 L374.42 300.66 L374.76 275.32 L375.14 287.75 L375.53 292.8 L375.91 293.76 L376.3 293.29 L376.7 290.96 L377.1 285.36 L377.5 275.1 L377.97 280.98 L378.44 284.7 L378.91 286.76 L379.38 287.63 L379.85 287.81 L380.28 287.49 L380.71 285.88 L381.15 282.01 L381.58 274.92 L382.02 288.43 L382.47 295.81 L382.91 298.88 L383.35 299.49 L383.83 298.86 L384.3 295.72 L384.78 288.16 L385.25 274.32 L385.68 288.02 L386.1 295.49 L386.53 298.6 L386.96 299.23 L387.31 298.07 L387.65 291.98 L388 277 L388.49 283.99 L388.97 289.13 L389.46 292.71 L389.94 295.01 L390.43 296.3 L390.91 296.87 L391.4 297 L391.83 296.81 L392.27 295.91 L392.7 293.85 L393.13 290.16 L393.57 284.36 L394 276 L394.5 282.47 L395 286.57 L395.5 288.84 L396 289.8 L396.5 290 L397 289.68 L397.5 288.05 L398 284.15 L398.5 277 L399 282.09 L399.5 285.31 L400 287.08 L400.5 287.84 L401 288 L401.5 287.59 L402 285.39 L402.5 280 L402.95 291.55 L403.4 297.85 L403.85 300.48 L404.3 301 L404.74 300.64 L405.18 298.92 L405.62 294.88 L406.06 287.56 L406.5 276 L407 283.4 L407.5 288.08 L408 290.67 L408.5 291.77 L409 292 L409.5 291.62 L410 289.75 L410.5 285.25 L411 277 L411.45 283.22 L411.9 288 L412.35 291.53 L412.8 294 L413.25 295.59 L413.7 296.5 L414.15 296.91 L414.6 297 L415.09 296.87 L415.57 296.27 L416.06 294.91 L416.54 292.49 L417.03 288.73 L417.51 283.33 L418 276 L418.46 283.01 L418.92 288.72 L419.38 293.26 L419.84 296.77 L420.3 299.38 L420.76 301.21 L421.22 302.41 L421.68 303.1 L422.14 303.42 L422.6 303.5 L423.1 303.4 L423.6 302.97 L424.1 302.03 L424.6 300.39 L425.1 297.87 L425.6 294.28 L426.1 289.42 L426.6 283.13 L427.1 275.2 L427.53 284.44 L427.97 290.84 L428.4 294.92 L428.83 297.2 L429.27 298.19 L429.7 298.4 L430.18 297.98 L430.65 295.88 L431.12 290.84 L431.6 281.6 L432.03 289.32 L432.47 294.68 L432.9 298.09 L433.33 299.99 L433.77 300.82 L434.2 301 L434.65 300.52 L435.1 298.15 L435.55 292.45 L436 282 L436.5 288.16 L437 291.52 L437.5 292.92 L438 293.2 L438.5 292.89 L439 291.37 L439.5 287.71 L440 281 L440.5 287.84 L441 292.18 L441.5 294.57 L442 295.59 L442.5 295.8 L442.93 295 L443.37 290.75 L443.8 280.3 L444.26 293.36 L444.71 302.98 L445.17 309.67 L445.63 313.97 L446.09 316.39 L446.54 317.46 L447 317.7 L447.5 317.08 L448 315.43 L448.5 313.08 L449 310.35 L449.5 307.55 L450 305 L450.4 303.23 L450.8 301.47 L451.2 299.48 L451.6 297 L452.08 294.56 L452.55 291.89 L453.02 286.03 L453.5 274 L454 291.6 L454.5 301.2 L455 305.2 L455.5 306 L456 303.48 L456.5 300 L456.96 298.53 L457.42 297.48 L457.88 296.55 L458.34 295.48 L458.8 294 L459.3 292.48 L459.8 290.98 L460.3 288.29 L460.8 283.21 L461.3 274.5 L461.8 291.81 L462.3 300.24 L462.8 304.08 L463.3 307.6 L463.8 312.43 L464.3 316.37 L464.8 318 L465.3 317.8 L465.8 317.29 L466.3 316.6 L466.7 315.41 L467.1 313.8 L467.5 313 L468 313.17 L468.5 313.6 L469 315.55 L469.5 318.8 L470 321 L470.5 321.8 L471 322.38 L471.5 322.6 L472 320.4 L472.5 314.87 L473 307.6 L473.4 302.92 L473.8 286.5 L474.15 302.61 L474.5 307.6 L475 317.04 L475.5 324.52 L476 330 L476.48 333.97 L476.95 337.33 L477.42 339.98 L477.9 341.8 L478.33 342.96 L478.77 343.94 L479.2 344.77 L479.63 345.46 L480.07 346.03 L480.5 346.5 L481 346.95 L481.5 347.31 L482 347.63 L482.5 347.92 L483 348.2 L483.43 348.42 L483.87 348.59 L484.3 348.76 L484.73 348.94 L485.17 349.18 L485.6 349.5 L486.03 350.17 L486.47 351.33 L486.9 352.8 L487.33 354.4 L487.77 355.96 L488.2 357.3 L488.63 358.59 L489.07 360 L489.5 361.38 L489.93 362.56 L490.37 363.39 L490.8 363.7 L491.27 363.67 L491.73 363.55 L492.2 363.34 L492.67 363.03 L493.13 362.58 L493.6 362 L494.1 355.7 L494.6 321.2 L495.1 355.72 L495.6 362.4 L496.08 364.09 L496.57 365.32 L497.05 366.19 L497.53 366.8 L498.02 367.23 L498.5 367.6 L498.95 367.93 L499.4 368.24 L499.85 368.5 L500.3 368.71 L500.75 368.85 L501.2 368.9 L501.57 366.7 L501.93 355.05 L502.3 326.4 L502.75 342.91 L503.2 348 L503.65 354.51 L504.1 359.3 L504.6 363.46 L505.1 367.03 L505.6 369.95 L506.1 372.2 L506.58 374.01 L507.05 375.65 L507.52 376.84 L508 377.3 L508.43 377.26 L508.87 377.13 L509.3 376.93 L509.73 376.67 L510.17 376.35 L510.6 376 L511.03 375.43 L511.47 374.48 L511.9 373.24 L512.33 371.75 L512.77 370.09 L513.2 368.3 L513.68 365.94 L514.15 362.94 L514.62 359.39 L515.1 355.4 L515.53 351.16 L515.97 346.03 L516.4 340 L516.77 333.91 L517.13 326.59 L517.5 318 L517.95 310.66 L518.4 288 L518.8 320.3 L519.2 326 L519.63 324.77 L520.07 321.77 L520.5 318 L520.96 314.8 L521.42 311.59 L521.88 305.78 L522.34 294.77 L522.8 276 L523.3 291.17 L523.8 297.33 L524.3 298.5 L524.8 298.03 L525.3 295.57 L525.8 289.5 L526.3 298.31 L526.8 301.72 L527.3 303 L527.8 304.18 L528.3 304.99 L528.8 305.3 L529.26 304.65 L529.72 302.93 L530.19 300.44 L530.65 297.53 L531.11 294.5 L531.58 291.69 L532.04 289.41 L532.5 288 L532.98 287.2 L533.45 286.55 L533.92 286.02 L534.4 285.56 L534.88 285.13 L535.35 284.67 L535.82 284.14 L536.3 283.5 L536.8 282.92 L537.3 282.52 L537.8 282.04 L538.3 281.21 L538.8 279.78 L539.3 277.5 L539.8 280.3 L540.3 281.97 L540.8 282.88 L541.3 283.43 L541.8 284.01 L542.3 285 L542.76 286.3 L543.22 287.72 L543.69 289.2 L544.15 290.68 L544.61 292.1 L545.08 293.42 L545.54 294.57 L546 295.5 L546.5 296.38 L547 297.25 L547.5 298.05 L548 298.7 L548.5 299.14 L549 299.3 L549.5 298.99 L550 298.15 L550.5 296.93 L551 295.49 L551.5 293.96 L552 292.5 L552.5 290.98 L553 289.23 L553.5 287.35 L554 285.45 L554.5 283.64 L555 282 L555.5 281.01 L556 280.43 L556.5 279.29 L557 276.6 L557.45 279.5 L557.9 281.37 L558.35 282.49 L558.8 283.13 L559.25 283.58 L559.7 284.1 L560.12 284.64 L560.54 285.08 L560.96 285.46 L561.38 285.82 L561.8 286.2 L562.28 286.69 L562.76 287.23 L563.24 287.8 L563.72 288.37 L564.2 288.92 L564.68 289.43 L565.16 289.86 L565.64 290.2 L566.12 290.42 L566.6 290.5 L567.09 290.47 L567.58 290.35 L568.08 290.1 L568.57 289.67 L569.06 289.01 L569.55 288.08 L570.04 286.85 L570.53 285.25 L571.02 283.25 L571.52 280.81 L572.01 277.87 L572.5 274.4 L572.97 276.54 L573.44 277.91 L573.91 278.73 L574.39 279.22 L574.86 279.6 L575.33 280.08 L575.8 280.9 L576.22 282.05 L576.64 283.44 L577.06 284.78 L577.48 285.8 L577.9 286.2 L578.36 286.14 L578.81 285.86 L579.27 285.24 L579.73 284.14 L580.19 282.42 L580.64 279.95 L581.1 276.6 L581.54 279.84 L581.98 281.58 L582.42 282.46 L582.86 283.09 L583.3 284.1 L583.72 285.63 L584.14 287.33 L584.56 288.9 L584.98 290.05 L585.4 290.5 L585.86 290.41 L586.31 289.99 L586.77 289.05 L587.23 287.39 L587.69 284.79 L588.14 281.06 L588.6 276 L589.04 279.7 L589.48 282.04 L589.92 283.33 L590.36 283.88 L590.8 284 L591.22 283.82 L591.65 283.34 L592.08 282.7 L592.5 282 L593 281.41 L593.5 280.78 L594 279.42 L594.5 276.6 L594.9 281.33 L595.3 283.91 L595.7 284.99 L596.1 285.2 L596.58 284.96 L597.05 284.38 L597.52 283.65 L598 283" fill="none" stroke="#000" stroke-width="1.15" stroke-linejoin="round" />
<path d="M353.3 435 L353.7 417.16 L354.1 400 L354.5 384.37 L354.9 370 L355.3 356.7 L355.7 345 L356.15 334.24 L356.6 325 L357.1 315.5 L357.6 308 L358 304 L358.4 300.8 L358.8 298 L359.27 295.31 L359.73 292.95 L360.2 290 L360.6 287.94 L361 284.92 L361.4 276.5 L361.87 295.49 L362.35 303.22 L362.82 304.68 L363.25 303.71 L363.69 298.6 L364.13 286.02 L364.57 304.51 L365.01 312.04 L365.45 313.46 L365.79 311.74 L366.13 302.66 L366.47 280.34 L366.88 301.3 L367.29 309.83 L367.7 311.44 L368.17 309.88 L368.63 301.64 L369.1 281.39 L369.51 318.35 L369.92 324.87 L370.31 317.85 L370.71 278.1 L371.14 307.79 L371.58 313.03 L372.06 308.15 L372.54 280.5 L372.93 313.17 L373.32 318.93 L373.69 316.64 L374.06 304.51 L374.43 274.69 L374.76 295.75 L375.1 304.32 L375.43 305.94 L375.92 304.33 L376.42 295.81 L376.91 274.87 L377.33 292.27 L377.76 301.77 L378.18 305.72 L378.61 306.52 L379.04 305.71 L379.47 301.7 L379.9 292.06 L380.33 274.4 L380.83 285.93 L381.32 292.21 L381.82 294.83 L382.31 295.36 L382.69 294.85 L383.07 292.3 L383.45 286.17 L383.83 274.95 L384.27 297.2 L384.71 306.25 L385.15 307.96 L385.53 307.13 L385.91 302.96 L386.29 292.97 L386.67 274.64 L387.05 289.12 L387.43 294.62 L387.81 297.68 L388.19 304.85 L387 276 L387.5 282.37 L388 286.79 L388.5 289.6 L389 291.17 L389.5 291.85 L390 292 L390.5 291.78 L391 290.75 L391.5 288.33 L392 283.94 L392.5 277 L393 284.96 L393.5 290.48 L394 294 L394.5 295.96 L395 296.81 L395.5 297 L395.96 296.7 L396.42 295.25 L396.88 291.86 L397.34 285.71 L397.8 276 L398.23 288.98 L398.67 297.97 L399.1 303.71 L399.53 306.91 L399.97 308.3 L400.4 308.6 L400.83 308.31 L401.27 306.96 L401.7 303.86 L402.13 298.3 L402.57 289.58 L403 277 L403.5 283.01 L404 286.82 L404.5 288.92 L405 289.81 L405.5 290 L406 289.7 L406.5 288.2 L407 284.6 L407.5 278 L407.96 286.66 L408.41 293.04 L408.87 297.48 L409.33 300.33 L409.79 301.93 L410.24 302.64 L410.7 302.8 L411.17 302.56 L411.63 301.46 L412.1 298.93 L412.57 294.39 L413.03 287.27 L413.5 277 L414 285.36 L414.5 291.16 L415 294.85 L415.5 296.91 L416 297.81 L416.5 298 L416.96 297.68 L417.42 296.17 L417.88 292.61 L418.34 286.17 L418.8 276 L419.23 279.99 L419.65 281.71 L420.07 282.58 L420.5 284 L420.92 286.6 L421.34 289.7 L421.76 292.68 L422.18 294.92 L422.6 295.8 L423.08 294.37 L423.55 291.09 L424.02 287.46 L424.5 285 L425 284.2 L425.5 283.7 L426 282 L426.43 283.08 L426.85 283.52 L427.27 283.75 L427.7 284.2 L428.13 285.17 L428.57 286.5 L429 287.94 L429.43 289.26 L429.87 290.23 L430.3 290.6 L430.79 290.53 L431.27 290.22 L431.76 289.52 L432.25 288.29 L432.74 286.39 L433.23 283.67 L433.71 279.99 L434.2 275.2 L434.65 280.59 L435.1 283.53 L435.55 284.75 L436 285 L436.5 284.95 L437 284.7 L437.5 284.1 L438 283 L438.49 283.74 L438.98 284.23 L439.46 284.55 L439.95 284.74 L440.44 284.88 L440.92 285.01 L441.41 285.2 L441.9 285.5 L442.33 285.92 L442.77 286.45 L443.2 287 L443.63 287.5 L444.07 287.86 L444.5 288 L445 287.83 L445.5 287.03 L446 285.16 L446.5 281.76 L447 276.4 L447.5 279.2 L448 280.62 L448.5 281.31 L449 281.89 L449.5 283 L449.99 284.72 L450.47 286.73 L450.96 288.9 L451.44 291.13 L451.93 293.29 L452.41 295.29 L452.9 297 L453.4 298.56 L453.9 300.04 L454.4 301.39 L454.9 302.56 L455.4 303.5 L455.83 304.2 L456.27 304.89 L456.7 305.52 L457.13 306.03 L457.57 306.37 L458 306.5 L458.5 306.29 L459 305.75 L459.5 305 L459.96 304.35 L460.42 303.44 L460.88 301.61 L461.34 298.22 L461.8 292.6 L462.23 299.56 L462.65 302.89 L463.07 304.43 L463.5 306 L464 308.64 L464.5 311.09 L465 312.9 L465.5 313.6 L466 312.72 L466.5 310.4 L467 307.17 L467.5 303.54 L468 300 L468.47 297.63 L468.93 296.01 L469.4 294.08 L469.87 290.8 L470.33 285.13 L470.8 276 L471.24 286.97 L471.68 293.73 L472.12 297.42 L472.56 299.13 L473 300 L473.5 300.83 L474 301.39 L474.5 301.6 L474.96 300.11 L475.42 296.46 L475.88 291.89 L476.34 287.66 L476.8 285 L477.24 284.04 L477.68 283.62 L478.12 283.23 L478.56 282.36 L479 280.5 L479.46 284.88 L479.92 287.01 L480.38 287.99 L480.84 288.95 L481.3 291 L481.8 295.95 L482.3 302.09 L482.8 306 L483.3 307.52 L483.8 308.59 L484.3 309 L484.65 307.65 L485 300 L485.4 306 L485.8 308.6 L486.2 309.9 L486.6 312 L487.07 315.67 L487.53 319.52 L488 324 L488.5 331.35 L489 339.82 L489.5 345 L489.93 346.47 L490.35 347.51 L490.77 348.3 L491.2 349 L491.7 349.88 L492.2 350.72 L492.7 351.35 L493.2 351.6 L493.67 349.85 L494.13 345.53 L494.6 340 L495.03 336.16 L495.47 329.38 L495.9 311 L496.35 338.3 L496.8 345 L497.25 349.68 L497.7 352.9 L498.18 356.52 L498.65 359.94 L499.12 363.04 L499.6 365.7 L500.07 367.98 L500.54 370.08 L501.01 372 L501.49 373.79 L501.96 375.47 L502.43 377.06 L502.9 378.6 L503.38 380.11 L503.85 381.6 L504.32 383.03 L504.8 384.39 L505.27 385.68 L505.75 386.87 L506.22 387.95 L506.7 388.9 L507.13 389.74 L507.57 390.6 L508 391.41 L508.43 392.07 L508.87 392.53 L509.3 392.7 L509.73 392.62 L510.15 392.4 L510.57 392.11 L511 391.8 L511.5 391.4 L512 390.89 L512.5 390.2 L512.96 389.24 L513.41 387.87 L513.87 386.14 L514.33 384.15 L514.79 381.96 L515.24 379.65 L515.7 377.3 L516.13 374.88 L516.57 372.12 L517 369.1 L517.43 365.9 L517.87 362.61 L518.3 359.3 L518.76 355.79 L519.22 352.18 L519.68 348.4 L520.14 344.37 L520.6 340 L521 335.95 L521.4 331.44 L521.8 326 L522.3 316.66 L522.8 305 L523.15 299.86 L523.5 285 L523.9 304.37 L524.3 310 L524.65 315.76 L525 319.5 L525.5 322.87 L526 325.34 L526.5 326.3 L526.96 325.71 L527.42 324.07 L527.88 321.6 L528.34 318.51 L528.8 315 L529.3 311.92 L529.8 305.81 L530.3 289.5 L530.8 298.73 L531.3 301.76 L531.8 305 L532.3 311.4 L532.8 318.05 L533.3 322.5 L533.8 324.94 L534.3 327.1 L534.8 328.92 L535.3 330.3 L535.8 331.19 L536.3 331.5 L536.8 330.82 L537.3 328.9 L537.8 325.89 L538.3 321.96 L538.8 317.28 L539.3 312 L539.8 307.6 L540.3 298.55 L540.8 274.5 L541.3 295.09 L541.8 302.48 L542.3 307.5 L542.74 314.19 L543.18 320.67 L543.62 326.2 L544.06 330.05 L544.5 331.5 L545 330.84 L545.5 329.03 L546 326.29 L546.5 322.88 L547 319.04 L547.5 315 L547.95 312.09 L548.4 309.65 L548.85 306.19 L549.3 300.18 L549.75 290.12 L550.2 274.5 L550.65 283.88 L551.1 288.42 L551.55 290.5 L552 292.5 L552.4 294.76 L552.8 296.6 L553.2 298 L553.65 299.25 L554.1 300.36 L554.55 301.32 L555 302.15 L555.45 302.84 L555.9 303.4 L556.32 303.86 L556.74 304.29 L557.16 304.66 L557.58 304.91 L558 305 L558.44 304.58 L558.88 303.47 L559.32 301.86 L559.76 299.97 L560.2 298 L560.62 295.59 L561.04 292.41 L561.46 288.92 L561.88 285.62 L562.3 283 L562.74 281.45 L563.18 280.68 L563.62 279.83 L564.06 278.02 L564.5 274.4 L564.95 278 L565.4 280.09 L565.85 281.21 L566.3 281.9 L566.75 282.68 L567.2 284.1 L567.62 286.35 L568.04 289.15 L568.46 291.89 L568.88 293.97 L569.3 294.8 L569.72 294.34 L570.15 293.17 L570.58 291.61 L571 290 L571.5 287.57 L572 284.48 L572.5 281.6 L573 279.8 L573.47 279.14 L573.93 278.83 L574.4 278.64 L574.87 278.36 L575.33 277.75 L575.8 276.6 L576.3 278.47 L576.8 279.49 L577.3 279.92 L577.8 280 L578.24 279.93 L578.68 279.73 L579.12 279.45 L579.56 279.09 L580 278.7 L580.44 278.38 L580.88 278.05 L581.32 277.46 L581.76 276.32 L582.2 274.4 L582.62 277.27 L583.04 278.84 L583.46 279.63 L583.88 280.18 L584.3 281 L584.74 282.3 L585.18 283.69 L585.62 284.94 L586.06 285.85 L586.5 286.2 L587 285.39 L587.5 283.6 L588 281.81 L588.5 281 L588.97 281.15 L589.43 281.52 L589.9 282 L590.37 282.48 L590.83 282.85 L591.3 283 L591.75 282.84 L592.2 282.46 L592.65 281.95 L593.1 281.44 L593.55 281.06 L594 280.9 L594.42 281.35 L594.84 282.41 L595.26 283.69 L595.68 284.75 L596.1 285.2 L596.58 284.96 L597.05 284.38 L597.52 283.65 L598 283" fill="none" stroke="#0a0aff" stroke-width="1.45" stroke-linejoin="round" stroke-dasharray="1.6 0.8"/>
<path d="M353.8 435 L354.2 420.05 L354.6 405 L354.95 391.39 L355.3 378 L355.7 363.47 L356.1 350 L356.45 339.46 L356.8 330 L357.2 320.52 L357.6 312 L358.03 306.82 L358.47 302.21 L358.9 288 L359.29 305.5 L359.68 312.62 L360.07 313.96 L360.49 312.46 L360.9 304.55 L361.32 285.09 L361.8 313.35 L362.27 324.84 L362.74 327.02 L363.12 325.83 L363.49 319.86 L363.87 305.56 L364.25 279.32 L364.74 313.8 L365.23 319.89 L365.65 317.8 L366.07 306.78 L366.49 279.67 L366.95 301.98 L367.41 311.05 L367.88 312.77 L368.33 310.97 L368.78 301.42 L369.24 277.96 L369.64 305.33 L370.04 310.16 L370.45 305.67 L370.86 280.25 L371.2 299.01 L371.53 302.32 L371.94 298.8 L372.35 278.83 L372.77 292.28 L373.19 297.75 L373.6 298.78 L373.98 298.2 L374.36 295.31 L374.73 288.37 L375.11 275.65 L375.55 282.62 L376 287.04 L376.45 289.48 L376.89 290.52 L377.34 290.74 L377.79 290.33 L378.24 288.33 L378.69 283.52 L379.13 274.69 L379.62 286.61 L380.1 291.45 L380.58 292.37 L380.92 291.44 L381.27 286.54 L381.61 274.49 L382.09 287.48 L382.57 292.76 L383.05 293.76 L383.43 292.83 L383.81 287.9 L384.19 275.78 L384.67 287.82 L385.16 292.72 L385.65 293.65 L386.09 292.67 L386.52 287.48 L386.96 274.74 L387.44 283.92 L387.92 289.74 L388.4 292.95 L388.88 294.32 L389.36 294.6 L389.77 294.11 L390.17 291.64 L390.57 285.7 L390.97 274.82 L391.46 293.92 L391.94 297.3 L391.97 294.1 L392 276 L392.5 294.64 L393 304.81 L393.5 309.05 L394 309.9 L394.5 309.6 L395 308.19 L395.5 304.96 L396 299.18 L396.5 290.1 L397 277 L397.5 285.32 L398 290.59 L398.5 293.5 L399 294.74 L399.5 295 L400 294.57 L400.5 292.45 L401 287.35 L401.5 278 L401.92 293.91 L402.34 303.98 L402.76 309.54 L403.18 311.9 L403.6 312.4 L404.04 311.89 L404.48 309.45 L404.92 303.73 L405.36 293.37 L405.8 277 L406.28 289.21 L406.76 296.94 L407.24 301.2 L407.72 303.02 L408.2 303.4 L408.67 303.15 L409.13 301.98 L409.6 299.29 L410.07 294.47 L410.53 286.91 L411 276 L411.5 282.37 L412 286.79 L412.5 289.6 L413 291.17 L413.5 291.85 L414 292 L414.5 291.65 L415 289.9 L415.5 285.7 L416 278 L416.48 286.79 L416.96 292.35 L417.44 295.42 L417.92 296.73 L418.4 297 L418.8 296.45 L419.2 293.7 L419.6 287.1 L420 275 L420.5 281.94 L421 286.33 L421.5 288.75 L422 289.78 L422.5 290 L423 289.64 L423.5 287.72 L424 283 L424.45 297.13 L424.9 304.85 L425.35 308.06 L425.8 308.7 L426.23 308.39 L426.67 306.96 L427.1 303.68 L427.53 297.78 L427.97 288.54 L428.4 275.2 L428.83 288.54 L429.27 297.78 L429.7 303.67 L430.13 306.96 L430.57 308.39 L431 308.7 L431.5 308.06 L432 304.85 L432.5 297.13 L433 283 L433.5 289.6 L434 293.2 L434.5 294.7 L435 295 L435.5 294.65 L436 292.9 L436.5 288.7 L437 281 L437.45 285.95 L437.9 288.65 L438.35 289.77 L438.8 290 L439.25 289.63 L439.7 287.78 L440.15 283.34 L440.6 275.2 L441.08 281.6 L441.57 285.58 L442.05 287.89 L442.53 289.25 L443.02 290.38 L443.5 292 L443.98 294.22 L444.47 296.52 L444.95 298.69 L445.43 300.5 L445.92 301.74 L446.4 302.2 L446.83 300.86 L447.27 297.45 L447.7 292.89 L448.13 288.12 L448.57 284.04 L449 281.6 L449.5 280.64 L450 280.25 L450.5 279.56 L451 277.7 L451.5 282.32 L452 285.09 L452.5 286.64 L453 287.56 L453.5 288.48 L454 290 L454.5 291.91 L455 293.7 L455.5 295.54 L456 297.58 L456.5 300 L456.96 303.09 L457.42 307.04 L457.88 311.26 L458.34 315.11 L458.8 318 L459.24 320.14 L459.68 322.19 L460.12 323.93 L460.56 325.15 L461 325.6 L461.46 325.04 L461.92 323.48 L462.38 321.15 L462.84 318.26 L463.3 315 L463.8 309.24 L464.3 300.93 L464.8 292.6 L465.3 288.46 L465.8 277.5 L466.23 279.98 L466.65 281.32 L467.07 281.89 L467.5 282 L467.95 281.93 L468.4 281.55 L468.85 280.65 L469.3 279 L469.74 286.74 L470.18 290.83 L470.62 292.86 L471.06 294.39 L471.5 297 L471.96 300.91 L472.42 304.9 L472.88 308.89 L473.34 312.82 L473.8 316.6 L474.3 321.08 L474.8 325.43 L475.3 328 L475.8 329.02 L476.3 329.73 L476.8 330 L477.24 328.91 L477.68 326.13 L478.12 322.39 L478.56 318.44 L479 315 L479.46 312 L479.92 309.08 L480.38 306.16 L480.84 303.16 L481.3 300 L481.76 297.65 L482.22 296.15 L482.68 294.02 L483.14 289.8 L483.6 282 L484.04 287.9 L484.48 290.86 L484.92 292.27 L485.36 293.52 L485.8 296 L486.3 301.11 L486.8 307.08 L487.3 312 L487.8 315.94 L488.3 318 L488.65 313.8 L489 290 L489.4 326.22 L489.8 335 L490.3 342.47 L490.8 347 L491.3 351.33 L491.8 355.49 L492.3 359.03 L492.8 361.48 L493.3 362.4 L493.73 362.27 L494.17 361.55 L494.6 359.8 L495.1 367.19 L495.6 368.5 L496.03 367.89 L496.45 366.17 L496.88 363.49 L497.3 360 L497.75 355.38 L498.2 336 L498.7 364.71 L499.2 372 L499.57 376.72 L499.93 380.05 L500.3 382.4 L500.73 384.55 L501.17 386.35 L501.6 387.87 L502.03 389.18 L502.47 390.33 L502.9 391.4 L503.38 392.5 L503.85 393.5 L504.32 394.34 L504.8 395 L505.27 395.56 L505.75 396.08 L506.23 396.45 L506.7 396.6 L507.18 396.51 L507.65 396.28 L508.12 395.96 L508.6 395.6 L509.1 395.1 L509.6 394.42 L510.1 393.6 L510.6 392.7 L511.08 391.78 L511.55 390.75 L512.02 389.61 L512.5 388.37 L512.98 387.03 L513.45 385.58 L513.92 384.04 L514.4 382.4 L514.87 380.64 L515.34 378.7 L515.81 376.57 L516.29 374.22 L516.76 371.64 L517.23 368.81 L517.7 365.7 L518.2 361.6 L518.7 356.51 L519.2 350.9 L519.7 345.24 L520.2 340 L520.7 335.03 L521.2 330.19 L521.7 326 L522.13 323.01 L522.57 320.38 L523 318 L523.43 315.71 L523.87 313.61 L524.3 312 L524.74 310.82 L525.18 309.82 L525.62 308.97 L526.06 308.21 L526.5 307.5 L526.96 306.91 L527.42 306.48 L527.88 306.05 L528.34 305.45 L528.8 304.5 L529.3 302.69 L529.8 296.39 L530.3 280.5 L530.8 288.64 L531.3 291.39 L531.8 294 L532.24 298.12 L532.68 302.54 L533.12 306.7 L533.56 310.04 L534 312 L534.5 313.15 L535 313.98 L535.5 314.3 L535.96 313.9 L536.42 312.82 L536.88 311.26 L537.34 309.43 L537.8 307.5 L538.24 305.08 L538.68 301.83 L539.12 298.29 L539.56 295 L540 292.5 L540.5 290.51 L541 288.85 L541.5 287.39 L542 286 L542.5 284.69 L543 283.5 L543.5 282.36 L544 281.21 L544.5 280 L545 279.23 L545.5 278.41 L546 276 L546.46 279.84 L546.92 281.85 L547.38 282.83 L547.84 283.6 L548.3 285 L548.74 287.16 L549.18 289.62 L549.62 292.06 L550.06 294.13 L550.5 295.5 L550.96 296.42 L551.42 297.24 L551.88 297.9 L552.34 298.34 L552.8 298.5 L553.24 297.73 L553.68 295.84 L554.12 293.49 L554.56 291.33 L555 290 L555.5 289.24 L556 288.61 L556.5 288.16 L557 288 L557.5 290.9 L558 293.8 L558.5 293.42 L559 292.41 L559.5 290.97 L560 289.29 L560.5 287.56 L561 286 L561.5 284.93 L562 284.25 L562.5 283.52 L563 282.3 L563.5 280.15 L564 276.6 L564.5 279.43 L565 281.05 L565.5 281.89 L566 282.4 L566.5 283 L566.97 283.75 L567.43 284.49 L567.9 285.16 L568.37 285.7 L568.83 286.07 L569.3 286.2 L569.76 286.13 L570.21 285.84 L570.67 285.18 L571.13 284.01 L571.59 282.19 L572.04 279.56 L572.5 276 L572.97 279.8 L573.44 282.36 L573.91 283.99 L574.39 285 L574.86 285.68 L575.33 286.35 L575.8 287.3 L576.26 288.43 L576.71 289.5 L577.17 290.5 L577.63 291.44 L578.09 292.3 L578.54 293.09 L579 293.8 L579.46 294.5 L579.91 295.22 L580.37 295.92 L580.83 296.54 L581.29 297.04 L581.74 297.38 L582.2 297.5 L582.66 297.24 L583.11 296.51 L583.57 295.43 L584.03 294.08 L584.49 292.58 L584.94 291.02 L585.4 289.5 L585.85 288.39 L586.3 287.61 L586.75 286.65 L587.2 285.01 L587.65 282.2 L588.1 277.7 L588.55 280.69 L589 282.76 L589.45 284.07 L589.9 284.81 L590.35 285.13 L590.8 285.2 L591.25 285.13 L591.7 284.81 L592.15 284.07 L592.6 282.76 L593.05 280.69 L593.5 277.7 L593.93 278.93 L594.37 279.71 L594.8 280.17 L595.23 280.44 L595.67 280.64 L596.1 280.9 L596.58 281.23 L597.05 281.5 L597.52 281.74 L598 282" fill="none" stroke="#ff3c3c" stroke-width="1.05" stroke-linejoin="round" />
</g>
<rect x="345.5" y="273.5" width="251.5" height="159.1" class="ax"/>
<line x1="363.2" y1="432.6" x2="363.2" y2="430.1" class="tk"/>
<line x1="363.2" y1="273.5" x2="363.2" y2="276" class="tk"/>
<line x1="399.2" y1="432.6" x2="399.2" y2="430.1" class="tk"/>
<line x1="399.2" y1="273.5" x2="399.2" y2="276" class="tk"/>
<line x1="435.2" y1="432.6" x2="435.2" y2="430.1" class="tk"/>
<line x1="435.2" y1="273.5" x2="435.2" y2="276" class="tk"/>
<line x1="471.2" y1="432.6" x2="471.2" y2="430.1" class="tk"/>
<line x1="471.2" y1="273.5" x2="471.2" y2="276" class="tk"/>
<line x1="507.2" y1="432.6" x2="507.2" y2="430.1" class="tk"/>
<line x1="507.2" y1="273.5" x2="507.2" y2="276" class="tk"/>
<line x1="543.2" y1="432.6" x2="543.2" y2="430.1" class="tk"/>
<line x1="543.2" y1="273.5" x2="543.2" y2="276" class="tk"/>
<line x1="579.2" y1="432.6" x2="579.2" y2="430.1" class="tk"/>
<line x1="579.2" y1="273.5" x2="579.2" y2="276" class="tk"/>
<line x1="345.5" y1="309.65" x2="348" y2="309.65" class="tk"/>
<line x1="597" y1="309.65" x2="594.5" y2="309.65" class="tk"/>
<line x1="345.5" y1="345.8" x2="348" y2="345.8" class="tk"/>
<line x1="597" y1="345.8" x2="594.5" y2="345.8" class="tk"/>
<line x1="345.5" y1="381.95" x2="348" y2="381.95" class="tk"/>
<line x1="597" y1="381.95" x2="594.5" y2="381.95" class="tk"/>
<line x1="345.5" y1="418.1" x2="348" y2="418.1" class="tk"/>
<line x1="597" y1="418.1" x2="594.5" y2="418.1" class="tk"/>
<text x="342.4" y="277.3" font-size="11.7" text-anchor="end" class="b">0</text>
<text x="342.4" y="313.45" font-size="11.7" text-anchor="end" class="b">-5</text>
<text x="342.4" y="349.6" font-size="11.7" text-anchor="end" class="b">-10</text>
<text x="342.4" y="385.75" font-size="11.7" text-anchor="end" class="b">-15</text>
<text x="342.4" y="421.9" font-size="11.7" text-anchor="end" class="b">-20</text>
<text x="363.2" y="446.7" font-size="11.7" text-anchor="middle" class="b">0.82</text>
<text x="399.2" y="446.7" font-size="11.7" text-anchor="middle" class="b">0.84</text>
<text x="435.2" y="446.7" font-size="11.7" text-anchor="middle" class="b">0.86</text>
<text x="471.2" y="446.7" font-size="11.7" text-anchor="middle" class="b">0.88</text>
<text x="507.2" y="446.7" font-size="11.7" text-anchor="middle" class="b">0.9</text>
<text x="543.2" y="446.7" font-size="11.7" text-anchor="middle" class="b">0.92</text>
<text x="579.2" y="446.7" font-size="11.7" text-anchor="middle" class="b">0.94</text>
<text x="437.25" y="460.5" font-size="13.2" text-anchor="start" textLength="70.2" lengthAdjust="spacingAndGlyphs" class="b" >Energy (eV)</text>
<text transform="translate(323,403.8) rotate(-90)" font-size="13" class="b" textLength="94.8" lengthAdjust="spacingAndGlyphs">Transmitivity |t|</text><text transform="translate(315.7,307.8) rotate(-90)" font-size="9.8" class="b">2</text>
<text x="370" y="404.7" font-size="10.8" text-anchor="start" class="b">Zoom of fig.9(g)</text>
<rect x="492.3" y="282.1" width="22.6" height="18" fill="#000"/>
<text x="503.6" y="295.1" font-size="13.5" text-anchor="middle" class="b" style="fill:#fff">i</text>
</g>
</svg>
</body></html>
